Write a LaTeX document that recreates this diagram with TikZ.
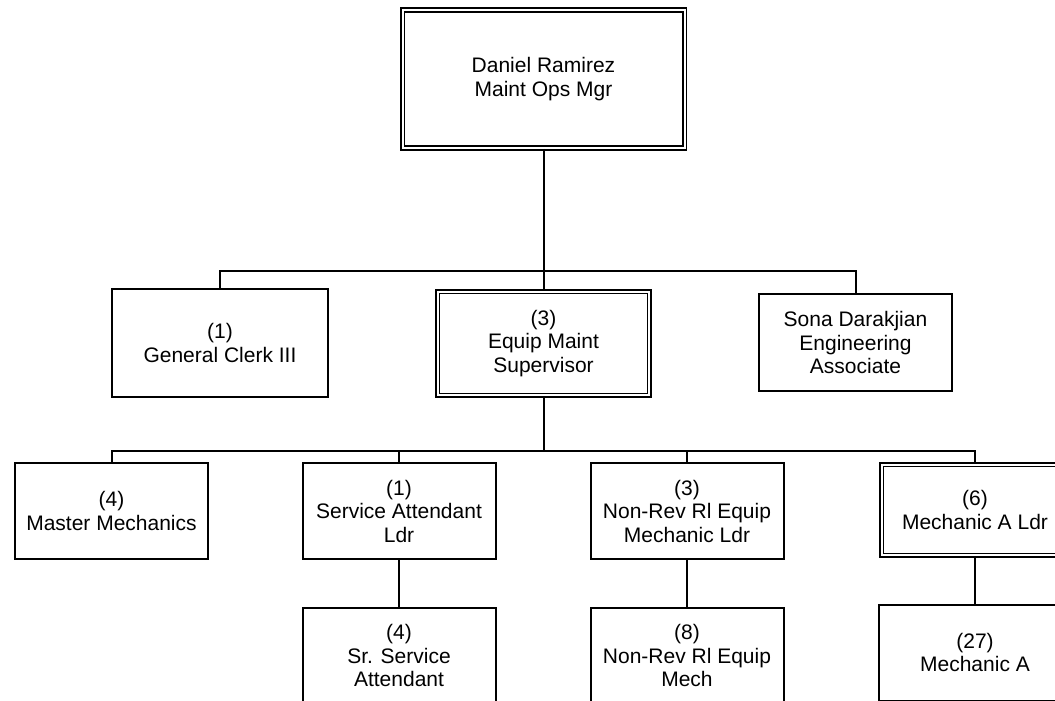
\documentclass[tikz,border=0pt]{standalone}
\usepackage{fontspec}
\setmainfont{Liberation Sans}
\usetikzlibrary{positioning}

\begin{document}
\begin{tikzpicture}[
    x=1pt, y=-1pt,
    node distance=46.5pt,
    font=\fontsize{21}{23.5}\selectfont,
    block/.style={rectangle, draw=black, line width=2pt, fill=white, align=center, minimum width=193pt, minimum height=96pt},
    dblock/.style={block, line width=1.7pt, double, double distance=2pt},
    link/.style={draw=black, line width=2pt}
]
    \useasboundingbox (0,0) rectangle (1055,701);
    \clip (0,0) rectangle (1055,701);

    % manager
    \node[dblock, minimum width=282pt, minimum height=138pt] (mgr) at (543.5,79) {Daniel Ramirez\\ Maint Ops Mgr};

    % second row
    \node[block, minimum width=216pt, minimum height=108pt] (clerk) at (220,343) {(1)\\ General Clerk III};
    \node[dblock, minimum width=211.5pt, minimum height=103.5pt] (equip) at (543.5,343.5) {(3)\\ Equip Maint\\ Supervisor};
    \node[block, minimum height=97pt] (sona) at (855.5,342.5) {Sona Darakjian\\ Engineering\\ Associate};

    % leaders
    \node[block] (master) at (111.5,511) {(4)\\ Master Mechanics};
    \node[block] (svcldr) at (399,511) {(1)\\ Service Attendant\\ Ldr};
    \node[block] (nrldr) at (687,511) {(3)\\ Non-Rev Rl Equip\\ Mechanic Ldr};
    \node[dblock, minimum width=186.5pt, minimum height=90.5pt] (mechldr) at (975,510) {(6)\\ Mechanic A Ldr};

    % staff
    \node[block, below=of svcldr] (svc) {(4)\\ Sr. Service\\ Attendant};
    \node[block, below=of nrldr] (nrmech) {(8)\\ Non-Rev Rl Equip\\ Mech};
    \node[block, below=47.5pt of mechldr] (mech) {(27)\\ Mechanic A};

    \coordinate (busA) at (543.5,271);
    \coordinate (busB) at (543.5,451);

    \draw[link] (mgr) -- (equip);
    \draw[link] (clerk.north) -- (clerk.north |- busA) -- (sona.north |- busA) -- (sona.north);
    \draw[link] (equip.south) -- (busB);
    \draw[link] (master.north) -- (master.north |- busB) -- (mechldr.north |- busB) -- (mechldr.north);
    \draw[link] (svcldr.north) -- (svcldr.north |- busB);
    \draw[link] (nrldr.north) -- (nrldr.north |- busB);

    \draw[link] (svcldr) -- (svc);
    \draw[link] (nrldr) -- (nrmech);
    \draw[link] (mechldr) -- (mech);
\end{tikzpicture}
\end{document}
